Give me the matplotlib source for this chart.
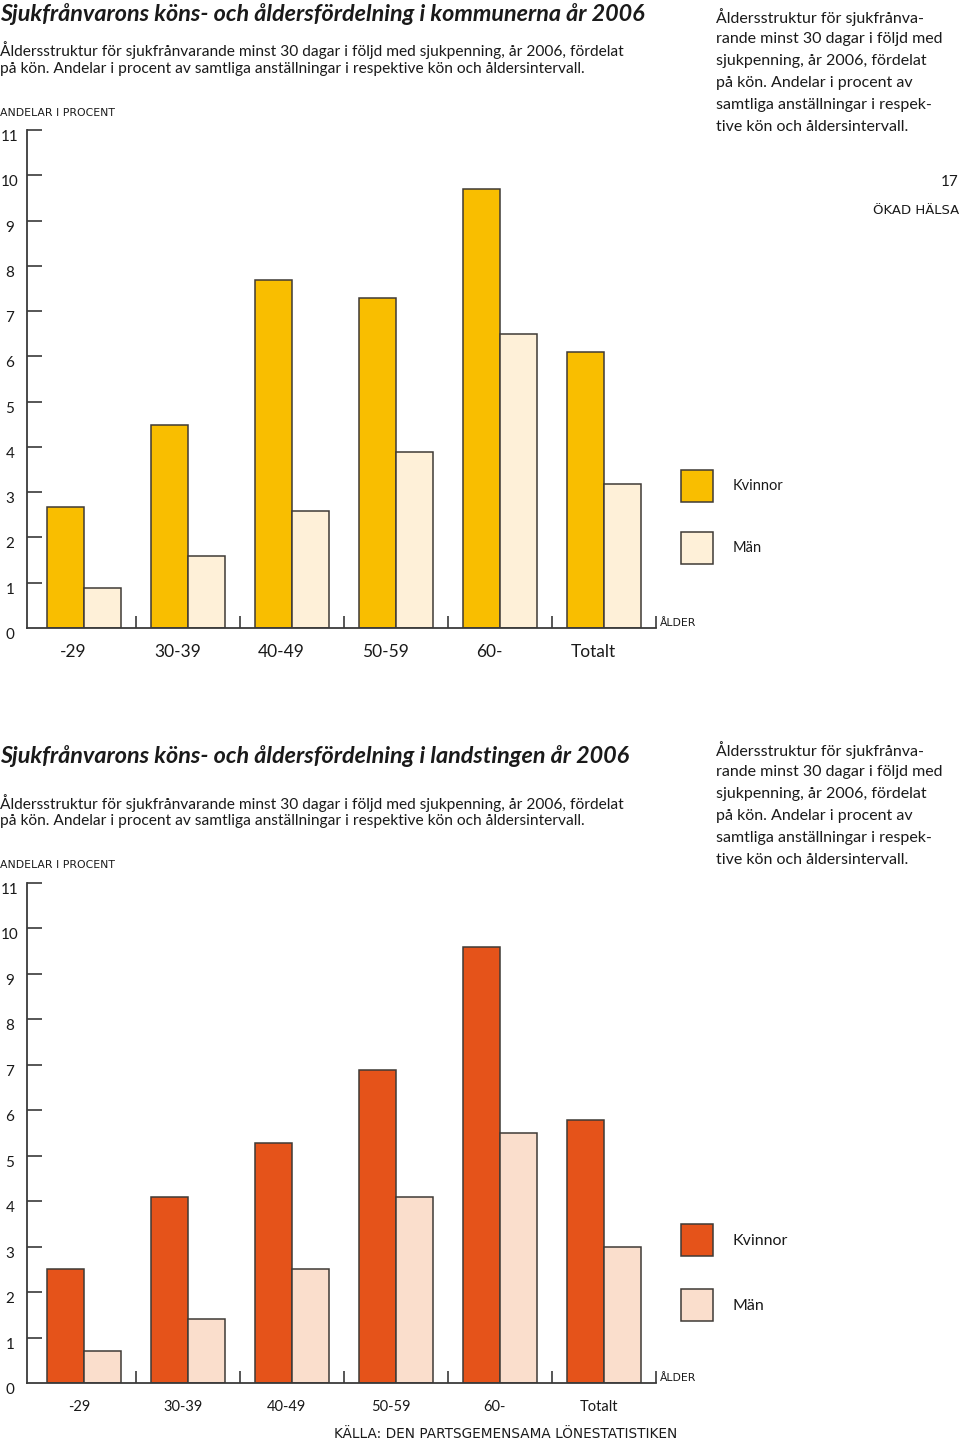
import matplotlib
matplotlib.use("Agg")
import matplotlib.pyplot as plt
import matplotlib.transforms as mtransforms

plt.rcParams['font.family'] = ['Lato', 'DejaVu Sans']

# ---------------- data ----------------
categories = ["-29", "30-39", "40-49", "50-59", "60-", "Totalt"]
series_names = ["Kvinnor", "Män"]

kommun_kvinnor = [2.67, 4.48, 7.68, 7.28, 9.69, 6.09]
kommun_man = [0.88, 1.59, 2.58, 3.89, 6.49, 3.18]

landsting_kvinnor = [2.51, 4.09, 5.28, 6.89, 9.59, 5.79]
landsting_man = [0.70, 1.41, 2.51, 4.09, 5.50, 2.99]

y_ticks = [0, 1, 2, 3, 4, 5, 6, 7, 8, 9, 10, 11]

title_top = "Sjukfrånvarons köns- och åldersfördelning i kommunerna år 2006"
title_bottom = "Sjukfrånvarons köns- och åldersfördelning i landstingen år 2006"
subtitle_lines = [
    "Åldersstruktur för sjukfrånvarande minst 30 dagar i följd med sjukpenning, år 2006, fördelat",
    "på kön. Andelar i procent av samtliga anställningar i respektive kön och åldersintervall.",
]
side_lines = [
    "Åldersstruktur för sjukfrånva-",
    "rande minst 30 dagar i följd med",
    "sjukpenning, år 2006, fördelat",
    "på kön. Andelar i procent av",
    "samtliga anställningar i respek-",
    "tive kön och åldersintervall.",
]
y_label = "ANDELAR I PROCENT"
x_label = "ÅLDER"
page_number = "17"
page_header = "ÖKAD HÄLSA"
source = "KÄLLA: DEN PARTSGEMENSAMA LÖNESTATISTIKEN"

# ---------------- styling ----------------
W, H = 960, 1440
fig = plt.figure(figsize=(W / 100, H / 100), dpi=100)


def fx(x):
    return x / W


def fy(y):
    return 1 - y / H


EDGE = "#3f3a36"
TEXT = "#1a1a1a"
SPINE = "#3a3a3a"
CAPS_FONT = ['DejaVu Sans']


def header(y_title, y_sub, y_caps, y_side, title):
    fig.text(fx(0), fy(y_title), title, fontsize=16.8, style="italic",
             weight="bold", va="center", ha="left", color=TEXT)
    for i, line in enumerate(subtitle_lines):
        fig.text(fx(0), fy(y_sub + 18.5 * i), line, fontsize=11.2,
                 va="center", ha="left", color=TEXT)
    fig.text(fx(0), fy(y_caps), y_label, fontsize=7.8, va="center",
             ha="left", color=TEXT, family=CAPS_FONT)
    for i, line in enumerate(side_lines):
        fig.text(fx(716), fy(y_side + 22 * i), line, fontsize=11.5,
                 va="center", ha="left", color=TEXT)


def make(box_left, box_bottom, box_top, kv, mn, c_kv, c_mn, xsize, xshift,
         leg_top, leg_font, leg_gap):
    ax = fig.add_axes([fx(box_left), fy(box_bottom), (656 - box_left) / W,
                       (box_bottom - box_top) / H])
    n = len(categories)
    w = 0.36
    xs = list(range(n))
    b1 = ax.bar([x - w / 2 for x in xs], kv, width=w, color=c_kv,
                edgecolor=EDGE, linewidth=1.1, label=series_names[0])
    b2 = ax.bar([x + w / 2 for x in xs], mn, width=w, color=c_mn,
                edgecolor=EDGE, linewidth=1.1, label=series_names[1])
    ax.set_xlim(-0.548, n - 0.5)
    ax.set_ylim(y_ticks[0], y_ticks[-1])
    ax.patch.set_alpha(0)
    for s in ("top", "right"):
        ax.spines[s].set_visible(False)
    for s in ("left", "bottom"):
        ax.spines[s].set_color(SPINE)
        ax.spines[s].set_linewidth(1.3)
    ax.set_yticks(y_ticks[1:])
    ax.set_xticks([x + 0.5 for x in xs])
    ax.tick_params(axis="y", direction="in", length=11, width=1.2,
                   color=SPINE, labelleft=False)
    ax.tick_params(axis="x", direction="in", length=9, width=1.2,
                   color=SPINE, labelbottom=False)
    ytr = ax.get_yaxis_transform() + mtransforms.ScaledTranslation(
        -17 / 100, -7 / 100, fig.dpi_scale_trans)
    for v in y_ticks:
        ax.text(0, v, str(v), transform=ytr, ha="center", va="center",
                fontsize=11, color=TEXT)
    xtr = ax.get_xaxis_transform() + mtransforms.ScaledTranslation(
        0, -24 / 100, fig.dpi_scale_trans)
    for x, c in zip(xs, categories):
        ax.text(x + xshift, 0, c, transform=xtr, ha="center", va="center",
                fontsize=xsize, color=TEXT)
    atr = ax.transData + mtransforms.ScaledTranslation(
        4 / 100, 0, fig.dpi_scale_trans)
    ax.text(n - 0.5, 0, x_label, transform=atr, ha="left", va="bottom",
            fontsize=7.8, color=TEXT, family=CAPS_FONT)
    px = leg_font * 100 / 72
    hh = (32 / px - 0.245) / 0.65
    leg = ax.legend(handles=[b1, b2], loc="upper left",
                    bbox_to_anchor=(fx(681), fy(leg_top)),
                    bbox_transform=fig.transFigure, frameon=False,
                    fontsize=leg_font, borderpad=0, borderaxespad=0,
                    handlelength=32 / px, handleheight=hh,
                    handletextpad=20 / px, labelspacing=leg_gap / px)
    for t in leg.get_texts():
        t.set_color(TEXT)
    return ax


# top chart
header(14, 50, 113, 17, title_top)
fig.text(fx(959), fy(182), page_number, fontsize=11, ha="right",
         va="center", color=TEXT)
fig.text(fx(959), fy(211), page_header, fontsize=9.5, ha="right",
         va="center", color=TEXT, family=CAPS_FONT)
make(27, 628, 130, kommun_kvinnor, kommun_man, "#F9BE00", "#FEF0D8",
     12.5, -0.1, 470, 10.5, 30)

# bottom chart
header(756, 803, 865, 750, title_bottom)
make(27, 1383, 883, landsting_kvinnor, landsting_man, "#E5531A", "#FADECC",
     10.5, -0.05, 1224, 11.5, 33)

fig.text(fx(506), fy(1434), source, fontsize=9.8, ha="center", va="center",
         color=TEXT, family=CAPS_FONT)

fig.savefig("out.png", dpi=100)
